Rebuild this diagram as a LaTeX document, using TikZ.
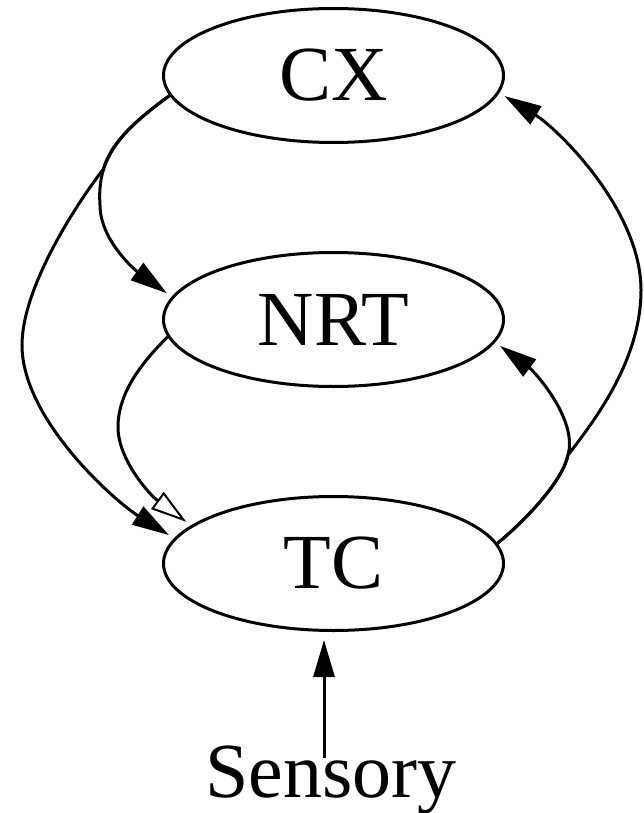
\documentclass[tikz,border=0pt]{standalone}
\usepackage{fontspec}
\setmainfont{Liberation Serif}
\usetikzlibrary{shapes.geometric,arrows.meta}
\begin{document}
\begin{tikzpicture}[x=1pt,y=-1pt,
  state/.style={draw, ellipse, line width=3pt, minimum width=340pt, minimum height=134pt, inner sep=0pt, font=\fontsize{78}{90}\selectfont},
  conn/.style={line width=3pt, -{Triangle[length=37pt,width=21pt]}, shorten >=6pt},
  oconn/.style={line width=3pt, -{Triangle[open,length=36pt,width=21pt,line width=2pt]}, shorten >=6pt},
  label/.style={inner sep=0pt, anchor=base, font=\fontsize{78}{90}\selectfont}]
\useasboundingbox (0,0) rectangle (643,813);
\node[state] (CX) at (333.5,75.5) {CX};
\node[state] (NRT) at (333.5,319.5) {NRT};
\node[state] (TC) at (333.5,563.5) {TC};
\node[label] (Sensory) at (331,797) {Sensory};
% CX -> NRT
\draw[conn] (CX.187) .. controls (115,135) and (97,162) .. (100,205)
  .. controls (100,240) and (135,270) .. (NRT.172);
% CX -> TC
\draw[conn] (CX.187) .. controls (130.6,123.6) and (110.6,144.8) .. (103.3,169.1)
  .. controls (72,210) and (22,290) .. (22,345)
  .. controls (22,420) and (116,502) .. (TC.171);
% NRT -> TC (open)
\draw[oconn] (NRT.186) .. controls (136,368) and (118,397) .. (118,427)
  .. controls (118,460) and (150,495) .. (TC.165);
% TC -> NRT
\draw[conn] (TC.7) .. controls (528,518) and (563,480) .. (568,455)
  .. controls (578,420) and (535,372) .. (NRT.352);
% TC -> CX
\draw[conn] (TC.7) .. controls (528,518) and (563,480) .. (568,455)
  .. controls (595,420) and (641,360) .. (641,290)
  .. controls (641,210) and (557.6,128.6) .. (CX.354);
% Sensory -> TC
\draw[conn, shorten >=8pt] ([xshift=-7pt,yshift=-13pt]Sensory.north) -- ([xshift=-9.5pt]TC.south);
\end{tikzpicture}
\end{document}
